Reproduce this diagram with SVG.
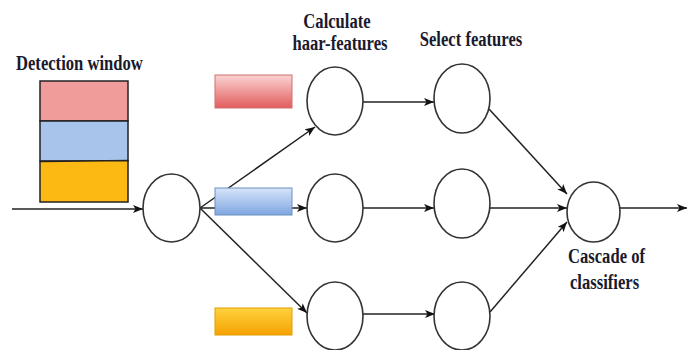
<svg xmlns="http://www.w3.org/2000/svg" width="693" height="350" viewBox="0 0 693 350">
<defs>
<marker id="ah" viewBox="0 0 10 8" refX="10" refY="4" markerWidth="10" markerHeight="8" markerUnits="userSpaceOnUse" orient="auto">
<path d="M0,0 L10,4 L0,8 L2.5,4 Z" fill="#111"/>
</marker>
<linearGradient id="gr" x1="0" y1="0" x2="0" y2="1"><stop offset="0" stop-color="#fbd3d3"/><stop offset="1" stop-color="#e25c5c"/></linearGradient>
<linearGradient id="gb" x1="0" y1="0" x2="0" y2="1"><stop offset="0" stop-color="#d6e5fa"/><stop offset="1" stop-color="#7ea6e0"/></linearGradient>
<linearGradient id="gy" x1="0" y1="0" x2="0" y2="1"><stop offset="0" stop-color="#ffd23f"/><stop offset="1" stop-color="#f5a200"/></linearGradient>
</defs>
<style>
.lbl{font-family:"Liberation Serif","Times New Roman",serif;font-weight:bold;fill:#1a1a2e;}
.nd{fill:#fff;stroke:#333;stroke-width:1.6;}
.cn{stroke:#222;stroke-width:1.5;fill:none;marker-end:url(#ah);}
.blk{stroke:#222;stroke-width:1.5;}
</style>
<rect width="693" height="350" fill="#fff"/>

<g id="detection-window">
<text class="lbl" font-size="16.6" transform="translate(16,70) scale(1,1.3)">Detection window</text>
<rect class="blk" x="40" y="81" width="88" height="40" fill="#f09c9a"/>
<rect class="blk" x="40" y="121" width="88" height="40" fill="#a9c4ea"/>
<polygon class="blk" points="40,161.5 128,160.5 128,202 40,202" fill="#fcb813"/>
</g>

<g id="labels">
<text class="lbl" font-size="16.6" text-anchor="middle" transform="translate(337,28) scale(1,1.3)">Calculate</text>
<text class="lbl" font-size="16.6" text-anchor="middle" transform="translate(340,50) scale(1,1.3)">haar-features</text>
<text class="lbl" font-size="16.6" text-anchor="middle" transform="translate(471,46) scale(1,1.3)">Select features</text>
<text class="lbl" font-size="16.6" transform="translate(568,263) scale(1,1.3)">Cascade of</text>
<text class="lbl" font-size="16.6" transform="translate(570,289) scale(1,1.3)">classifiers</text>
</g>

<g id="connectors">
<line class="cn" x1="12" y1="209" x2="143" y2="209"/>
<line class="cn" x1="200" y1="208" x2="315" y2="127"/>
<line class="cn" x1="200" y1="208" x2="307" y2="208"/>
<line class="cn" x1="200" y1="208" x2="307" y2="313"/>
<line class="cn" x1="363" y1="102" x2="434" y2="102"/>
<line class="cn" x1="363" y1="208" x2="434" y2="208"/>
<line class="cn" x1="363" y1="314" x2="435" y2="314"/>
<line class="cn" x1="489" y1="109" x2="567" y2="194"/>
<line class="cn" x1="490" y1="208" x2="567" y2="208"/>
<line class="cn" x1="490" y1="312" x2="567" y2="222"/>
<line class="cn" x1="620" y1="208" x2="687" y2="208"/>
</g>

<g id="feature-red"><rect x="215" y="75" width="77" height="33" fill="url(#gr)" stroke="#d07070" stroke-width="1"/></g>
<g id="feature-blue"><rect x="215" y="188" width="77" height="27" fill="url(#gb)" stroke="#6c8ebf" stroke-width="1"/></g>
<g id="feature-yellow"><rect x="215" y="308" width="77" height="27" fill="url(#gy)" stroke="#e0a000" stroke-width="1"/></g>

<g id="input-node"><ellipse class="nd" cx="171.5" cy="208" rx="28.5" ry="34"/></g>
<g id="haar-1"><ellipse class="nd" cx="335" cy="101" rx="28" ry="34"/></g>
<g id="haar-2"><ellipse class="nd" cx="335" cy="208" rx="28" ry="34"/></g>
<g id="haar-3"><ellipse class="nd" cx="335" cy="316" rx="28" ry="34"/></g>
<g id="select-1"><ellipse class="nd" cx="462" cy="98.5" rx="28" ry="34.5"/></g>
<g id="select-2"><ellipse class="nd" cx="462" cy="203.5" rx="28" ry="34.5"/></g>
<g id="select-3"><ellipse class="nd" cx="462" cy="316" rx="28" ry="34"/></g>
<g id="cascade"><ellipse class="nd" cx="593.5" cy="212" rx="26.5" ry="30"/></g>
</svg>
